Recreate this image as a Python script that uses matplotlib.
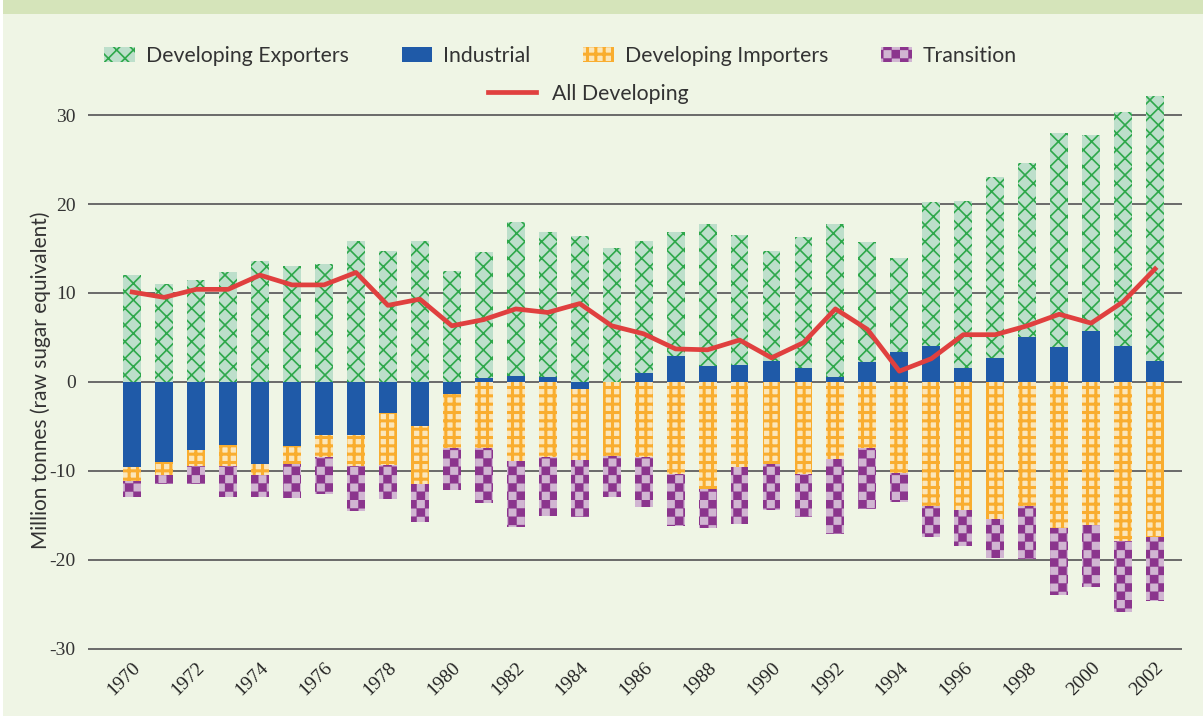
import numpy as np
import matplotlib
matplotlib.use("Agg")
import matplotlib.pyplot as plt
from matplotlib import hatch as mhatch
from matplotlib.path import Path
from matplotlib.patches import Patch, Rectangle
from matplotlib.lines import Line2D

# data (million tonnes, raw sugar equivalent)
years = list(range(1970, 2003))
exporters = [12.0, 11.0, 11.5, 12.4, 13.6, 13.0, 13.3, 15.8, 14.7, 15.8, 12.5,
             14.2, 17.3, 16.3, 16.4, 15.0, 14.8, 13.9, 15.9, 14.6, 12.4, 14.8,
             17.2, 13.5, 10.5, 16.2, 18.7, 20.3, 19.6, 24.1, 22.1, 26.3, 29.9]
industrial = [-9.6, -9.0, -7.7, -7.1, -9.2, -7.2, -6.0, -6.0, -3.5, -5.0, -1.4,
              0.4, 0.7, 0.5, -0.8, 0.0, 1.0, 2.9, 1.8, 1.9, 2.3, 1.5,
              0.5, 2.2, 3.4, 4.0, 1.6, 2.7, 5.0, 3.9, 5.7, 4.0, 2.3]
importers = [-1.5, -1.5, -1.8, -2.4, -1.3, -2.0, -2.5, -3.5, -5.9, -6.5, -6.0,
             -7.5, -8.9, -8.5, -8.0, -8.4, -8.5, -10.4, -12.0, -9.6, -9.3, -10.4,
             -8.7, -7.5, -10.2, -14.0, -14.4, -15.4, -14.0, -16.4, -16.1, -17.9, -17.5]
transition = [-1.9, -1.0, -2.0, -3.5, -2.5, -3.9, -4.1, -5.0, -3.8, -4.3, -4.8,
              -6.1, -7.4, -6.6, -6.4, -4.6, -5.6, -5.8, -4.4, -6.4, -5.1, -4.8,
              -8.4, -6.8, -3.3, -3.5, -4.1, -4.4, -5.9, -7.6, -7.0, -8.0, -7.1]
all_developing = [10.1, 9.5, 10.4, 10.4, 12.0, 10.9, 10.9, 12.3, 8.6, 9.3, 6.3,
                  7.0, 8.2, 7.8, 8.8, 6.3, 5.4, 3.7, 3.6, 4.7, 2.7, 4.4,
                  8.2, 5.9, 1.2, 2.6, 5.3, 5.3, 6.3, 7.6, 6.6, 9.0, 12.7]
tick_years = list(range(1970, 2003, 2))
y_ticks = [-30, -20, -10, 0, 10, 20, 30]


# checkerboard hatch: take over the 'O' hatch symbol
class CheckerHatch(mhatch.HatchPatternBase):
    def __init__(self, hatch, density):
        self.n = hatch.count('O') * density
        self.cells = [(i, j) for i in range(self.n) for j in range(self.n)
                      if (i + j) % 2 == 0]
        self.num_vertices = len(self.cells) * 5

    def set_vertices_and_codes(self, vertices, codes):
        s = 1.0 / self.n
        k = 0
        for i, j in self.cells:
            x0, y0 = i * s, j * s
            vertices[k:k + 5] = [(x0, y0), (x0 + s, y0), (x0 + s, y0 + s),
                                 (x0, y0 + s), (x0, y0)]
            codes[k:k + 5] = [Path.MOVETO, Path.LINETO, Path.LINETO,
                              Path.LINETO, Path.CLOSEPOLY]
            k += 5


mhatch._hatch_types = [CheckerHatch if t is mhatch.LargeCircles else t
                       for t in mhatch._hatch_types]


def hatch_lw(artist, lw):
    # hatch line width is global, so set it around each draw
    if hasattr(artist, "set_hatch_linewidth"):
        artist.set_hatch_linewidth(lw)
    orig = artist.draw

    def draw(renderer, *args, **kwargs):
        with plt.rc_context({"hatch.linewidth": lw}):
            return orig(renderer, *args, **kwargs)
    artist.draw = draw


bg = "#eff5e5"
green_fill, green_hatch = "#bddfcb", "#2ea84b"
blue = "#1f5aa8"
orange_fill, orange_hatch = "#fbe6ba", "#f9ad2f"
purple_fill, purple_hatch = "#d1b5d2", "#8b358d"
red = "#e0403f"

leg_font = "Lato"
tick_font = "Liberation Serif"
hatch_widths = {"xx": 1.2, "++": 2.2, "OO": 0.2}

fig = plt.figure(figsize=(12.03, 7.16), dpi=100, facecolor=bg)
ax = fig.add_axes([0.0732, 0.0905, 0.9093, 0.786])
ax.set_facecolor(bg)

# top strip and white left edge
fig.patches.append(Rectangle((0, 0.98), 1, 0.02, transform=fig.transFigure,
                             facecolor="#d5e4ba", edgecolor="none", zorder=0))
fig.patches.append(Rectangle((0, 0), 0.0025, 1, transform=fig.transFigure,
                             facecolor="white", edgecolor="none", zorder=1))

x = np.array(years)
ind = np.array(industrial)
imp = np.array(importers)
pos_base = np.clip(ind, 0, None)
neg_base = np.clip(ind, None, 0)
w = 0.56


def hatched_bar(vals, bottom, fill, hcol, hatch):
    bars = ax.bar(x, vals, w, bottom=bottom, color=fill, edgecolor=hcol,
                  linewidth=0, hatch=hatch, zorder=2)
    for b in bars:
        hatch_lw(b, hatch_widths[hatch])
    return bars


ax.bar(x, ind, w, color=blue, linewidth=0, zorder=2)
hatched_bar(exporters, pos_base, green_fill, green_hatch, "xx")
hatched_bar(importers, neg_base, orange_fill, orange_hatch, "++")
hatched_bar(transition, neg_base + imp, purple_fill, purple_hatch, "OO")
ax.plot(x, all_developing, color=red, linewidth=3.4, zorder=3)

ax.set_xlim(1968.62, 2002.84)
ax.set_ylim(-30.3, 33)
ax.set_yticks(y_ticks)
ax.set_yticklabels([str(v) for v in y_ticks], fontfamily=tick_font,
                   fontsize=14, color="#333333")
ax.set_xticks(tick_years)
ax.set_xticklabels([str(v) for v in tick_years], fontfamily=tick_font,
                   fontsize=14, color="#222222", rotation=45,
                   ha="right", rotation_mode="anchor")
ax.tick_params(axis="both", length=0)
ax.tick_params(axis="y", pad=9)
ax.tick_params(axis="x", pad=6)
ax.yaxis.grid(True, color="#5f5f5f", linewidth=1.3, zorder=1)
ax.set_axisbelow(True)
for s in ax.spines.values():
    s.set_visible(False)
ax.set_ylabel("Million tonnes (raw sugar equivalent)", fontfamily=leg_font,
              fontsize=15, color="#333333")
ax.yaxis.set_label_coords(-0.034, 0.482)

handles = [
    Patch(facecolor=green_fill, edgecolor=green_hatch, hatch="xx", linewidth=0),
    Patch(facecolor=blue, linewidth=0),
    Patch(facecolor=orange_fill, edgecolor=orange_hatch, hatch="++", linewidth=0),
    Patch(facecolor=purple_fill, edgecolor=purple_hatch, hatch="OO", linewidth=0),
]
labels = ["Developing Exporters", "Industrial", "Developing Importers", "Transition"]
leg1 = fig.legend(handles, labels, loc="center", bbox_to_anchor=(0.466, 0.922),
                  ncol=4, frameon=False, prop={"family": leg_font, "size": 15.3},
                  handlelength=1.45, handleheight=0.75, handletextpad=0.5,
                  columnspacing=2.5, labelcolor="#333333")
for p, h in zip(leg1.get_patches(), ["xx", None, "++", "OO"]):
    if h:
        hatch_lw(p, hatch_widths[h])
leg2 = fig.legend([Line2D([], [], color=red, linewidth=3.4)], ["All Developing"],
                  loc="center", bbox_to_anchor=(0.489, 0.869), frameon=False,
                  prop={"family": leg_font, "size": 15.3}, handlelength=2.3,
                  handletextpad=0.75, labelcolor="#333333")

fig.savefig("out.png", dpi=100, facecolor=bg)
